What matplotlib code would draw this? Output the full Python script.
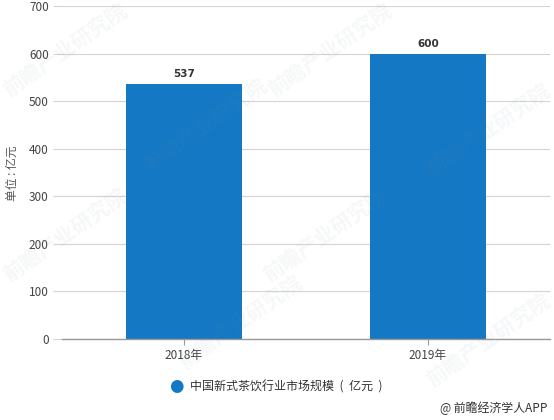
import matplotlib
matplotlib.use('Agg')
import matplotlib.pyplot as plt

plt.rcParams['font.family'] = ['Noto Sans CJK SC', 'DejaVu Sans']

years = ['2018年', '2019年']
market_size = [537, 600]
y_ticks = [0, 100, 200, 300, 400, 500, 600, 700]
series_name = '中国新式茶饮行业市场规模  (  亿元  )'
unit_label = '单位 : 亿元'
source_label = '@ 前瞻经济学人APP'
watermark = '前瞻产业研究院'
# watermark centres in pixels, from the picture
watermark_xy = [(65, 50), (330, 50), (205, 125), (488, 130), (65, 235), (325, 235), (240, 322), (488, 340)]

W, H = 554, 420
fig = plt.figure(figsize=(W / 100, H / 100), dpi=100)
ax = fig.add_axes([62 / W, 1 - 339 / H, (550 - 62) / W, (339 - 6) / H])

pos = range(len(years))
bar_color = '#1478c4'
ax.bar(pos, market_size, width=0.475, color=bar_color, zorder=3)
for p, v in zip(pos, market_size):
    ax.annotate(str(v), (p, v), xytext=(0, 3.5), textcoords='offset points', ha='center', va='bottom',
                fontsize=7.5, fontweight='bold', color='#333333', family=['DejaVu Sans'])

ax.set_xlim(-0.5, 1.5)
ax.set_ylim(0, 700)
ax.set_xticks(list(pos))
ax.set_xticklabels(years, fontsize=8.5, color='#444444')
ax.set_yticks(y_ticks)
ax.tick_params(axis='y', length=6.5, width=0.8, color='#d4d4d4', labelsize=8.5, labelcolor='#444444', pad=3)
ax.tick_params(axis='x', length=4, width=0.8, color='#999999', pad=3)
ax.grid(axis='y', color='#d4d4d4', lw=0.8, zorder=0)
ax.set_axisbelow(True)
for s in ['top', 'right', 'left']:
    ax.spines[s].set_visible(False)
ax.spines['bottom'].set_color('#999999')
ax.spines['bottom'].set_linewidth(1)
ax.spines['bottom'].set_zorder(4)

fig.text(12 / W, 1 - 173 / H, unit_label, rotation=90, ha='center', va='center', fontsize=8.5, color='#555555')

# legend dot and label
fig.text(176 / W, 1 - 386 / H, '\u25cf', ha='center', va='center', fontsize=12, color=bar_color, family=['DejaVu Sans'])
fig.text(190 / W, 1 - 387 / H, series_name, ha='left', va='center', fontsize=8.65, color='#333333')
fig.text(548 / W, 1 - 408 / H, source_label, ha='right', va='center', fontsize=8.6, color='#333333')

for x, y in watermark_xy:
    fig.text(x / W, 1 - y / H, watermark, rotation=35, ha='center', va='center', fontsize=15,
             fontweight='bold', color='#7a8a99', alpha=0.07, zorder=10)

fig.savefig('out.png', dpi=100)
